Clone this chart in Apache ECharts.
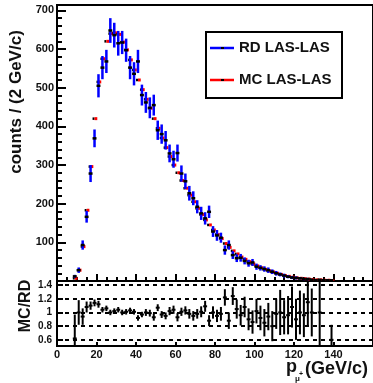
<!DOCTYPE html>
<html lang="en">
<head>
<meta charset="UTF-8">
<title>pmu spectrum</title>
<script src="https://cdn.jsdelivr.net/npm/echarts@6.0.0/dist/echarts.min.js"></script>
<style>
  html, body { margin: 0; padding: 0; background: #fff; }
  #main { width: 373px; height: 383px; }
</style>
</head>
<body>
<div id="main"></div>
<script type="text/javascript">
// bin centres in GeV/c (2 GeV/c bins)
var binCentres = [9, 11, 13, 15, 17, 19, 21, 23, 25, 27, 29, 31, 33, 35, 37, 39, 41, 43, 45, 47,
  49, 51, 53, 55, 57, 59, 61, 63, 65, 67, 69, 71, 73, 75, 77, 79, 81, 83, 85, 87,
  89, 91, 93, 95, 97, 99, 101, 103, 105, 107, 109, 111, 113, 115, 117, 119, 121, 123, 125, 127,
  129, 131, 133, 135, 137, 139];

// real data counts and their errors
var rdCounts = [12, 28, 93, 166, 278, 369, 505, 552, 568, 648, 636, 615, 617, 597, 552, 536, 568, 481, 462, 448,
  455, 390, 380, 364, 330, 315, 331, 278, 258, 227, 214, 192, 175, 162, 179, 128, 118, 112, 80, 93,
  67, 59, 60, 52, 46, 48, 37, 34, 31, 28, 24, 20, 17, 14, 11, 9, 8, 7, 5, 5,
  3, 2, 3, 2, 2, 2];
var rdErr = [4, 7, 12, 15, 22, 23, 30, 30, 30, 32, 32, 32, 30, 30, 30, 30, 30, 27, 27, 27,
  27, 25, 25, 24, 23, 22, 22, 21, 20, 19, 18, 17, 17, 16, 16, 14, 14, 13, 12, 12,
  10, 10, 10, 9, 9, 9, 8, 7, 7, 7, 6, 6, 5, 5, 4, 4, 4, 3, 3, 3,
  2, 2, 2, 2, 2, 2];

// monte carlo counts
var mcCounts = [7, 28, 89, 183, 296, 420, 515, 575, 620, 640, 642, 638, 618, 598, 572, 546, 520, 495, 470, 447,
  420, 395, 370, 345, 322, 300, 280, 260, 240, 222, 205, 188, 172, 158, 145, 132, 120, 110, 97, 87,
  78, 70, 62, 56, 50, 44, 39, 34, 30, 26, 23, 20, 17, 14, 12, 10, 8, 7, 6, 5,
  4, 3, 3, 2, 2, 1];

// MC/RD ratio and its error (null = no point)
var ratio = [0.62, 1.0, 0.94, 1.08, 1.1, 1.14, 1.12, 1.04, 1.06, 1.0, 1.02, 1.04, 1.0, 1.01, 1.03, 1.01, 0.92, 0.97, 1.0, 0.99,
  0.93, 1.07, 0.97, 0.95, 1.02, 1.04, 0.93, 1.01, 1.03, 0.98, 0.95, 0.98, 1.01, 1.09, 0.88, 1.0, 0.95, 0.98, 1.22, 0.88,
  1.24, 1.05, 0.96, 1.08, 0.9, 0.86, 1.02, 0.92, 0.85, 0.94, 0.8, 0.98, 1.0, 0.93, 0.96, 1.08, 0.9, 1.0, 0.96, 1.15,
  1.0, null, 1.0, null, null, 0.6];
var ratioErr = [0.35, 0.18, 0.12, 0.08, 0.06, 0.05, 0.05, 0.04, 0.04, 0.04, 0.04, 0.04, 0.04, 0.04, 0.04, 0.04, 0.04, 0.04, 0.05, 0.05,
  0.05, 0.05, 0.05, 0.05, 0.06, 0.06, 0.06, 0.06, 0.06, 0.07, 0.07, 0.07, 0.08, 0.08, 0.08, 0.09, 0.09, 0.1, 0.12, 0.12,
  0.13, 0.14, 0.15, 0.15, 0.16, 0.17, 0.18, 0.18, 0.2, 0.2, 0.22, 0.22, 0.33, 0.25, 0.28, 0.3, 0.3, 0.32, 0.32, 0.35,
  0.35, null, 1.0, null, null, 0.22];

var ratioLevels = [0.6, 0.8, 1.0, 1.2, 1.4];

var FONT = '"Liberation Sans", Arial, sans-serif';

var myChart = echarts.init(document.getElementById('main'));

function pack(vals, errs) {
  var out = [];
  for (var i = 0; i < binCentres.length; i++) {
    if (vals[i] === null) continue;
    out.push([binCentres[i], vals[i], errs ? errs[i] : 0]);
  }
  return out;
}

function seg(x1, y1, x2, y2, color, w) {
  return { type: 'line', shape: { x1: x1, y1: y1, x2: x2, y2: y2 }, style: { stroke: color, lineWidth: w } };
}

// RD: blue vertical error bar + black bin-width marker
function renderRD(params, api) {
  var x = api.value(0), y = api.value(1), e = api.value(2);
  var c = api.coord([x, y]);
  var lo = api.coord([x, y - e]), hi = api.coord([x, y + e]);
  var l = api.coord([x - 1, y]), r = api.coord([x + 1, y]);
  return { type: 'group', children: [
    seg(c[0], lo[1], c[0], hi[1], '#0000ff', 2.5),
    seg(l[0], c[1], r[0], c[1], '#000', 2.5)
  ] };
}

// MC: black marker with a red end
function renderMC(params, api) {
  var x = api.value(0), y = api.value(1);
  var l = api.coord([x - 1, y]), m = api.coord([x, y]), r = api.coord([x + 1.4, y]);
  return { type: 'group', children: [
    seg(l[0], l[1], m[0], m[1], '#000', 2.5),
    seg(m[0], m[1], r[0], r[1], '#ff0000', 3)
  ] };
}

// ratio: black cross
function renderRatio(params, api) {
  var x = api.value(0), y = api.value(1), e = api.value(2);
  var c = api.coord([x, y]);
  var lo = api.coord([x, y - e]), hi = api.coord([x, y + e]);
  var l = api.coord([x - 1, y]), r = api.coord([x + 1, y]);
  return { type: 'group', children: [
    seg(c[0], lo[1], c[0], hi[1], '#000', 2),
    seg(l[0], c[1], r[0], c[1], '#000', 2)
  ] };
}

var tickStyle = { color: '#000', width: 2 };
var labelStyle = { color: '#111', fontFamily: FONT, fontWeight: 'bold' };

var option = {
  backgroundColor: '#fff',
  animation: false,
  grid: [
    { left: 57, width: 331, top: 5, height: 276, show: true, borderColor: '#000', borderWidth: 2 },
    { left: 57, width: 331, top: 281, height: 65, show: true, borderColor: '#000', borderWidth: 2 }
  ],
  xAxis: [
    {
      type: 'value', gridIndex: 0, min: 0, max: 160, interval: 20,
      axisLine: { lineStyle: tickStyle },
      axisTick: { inside: true, length: 7, lineStyle: tickStyle },
      minorTick: { show: true, splitNumber: 4, length: 4, lineStyle: tickStyle },
      axisLabel: { show: false },
      splitLine: { show: false }
    },
    {
      type: 'value', gridIndex: 1, min: 0, max: 160, interval: 20,
      axisLine: { lineStyle: tickStyle },
      axisTick: { inside: true, length: 4, lineStyle: tickStyle },
      axisLabel: Object.assign({ fontSize: 11, margin: 3, showMaxLabel: false }, labelStyle),
      splitLine: { show: false }
    }
  ],
  yAxis: [
    {
      type: 'value', gridIndex: 0, min: 0, max: 714, interval: 100,
      axisLine: { lineStyle: tickStyle },
      axisTick: { inside: true, length: 9, lineStyle: tickStyle },
      minorTick: { show: true, splitNumber: 5, length: 5, lineStyle: tickStyle },
      axisLabel: Object.assign({ fontSize: 11, margin: 3, showMinLabel: false, showMaxLabel: false }, labelStyle),
      splitLine: { show: false }
    },
    {
      type: 'value', gridIndex: 1, min: 0.51, max: 1.46,
      axisLine: { lineStyle: tickStyle },
      axisTick: { inside: true, length: 6, lineStyle: tickStyle, customValues: ratioLevels },
      axisLabel: Object.assign({ fontSize: 10, margin: 5, customValues: ratioLevels }, labelStyle),
      splitLine: { show: false }
    }
  ],
  series: [
    {
      type: 'custom', name: 'MC LAS-LAS', xAxisIndex: 0, yAxisIndex: 0,
      renderItem: renderMC, data: pack(mcCounts), clip: true, silent: true
    },
    {
      type: 'custom', name: 'RD LAS-LAS', xAxisIndex: 0, yAxisIndex: 0,
      renderItem: renderRD, data: pack(rdCounts, rdErr), clip: true, silent: true
    },
    {
      type: 'custom', name: 'MC/RD', xAxisIndex: 1, yAxisIndex: 1,
      renderItem: renderRatio, data: pack(ratio, ratioErr), clip: true, silent: true,
      markLine: {
        silent: true, symbol: 'none', label: { show: false },
        lineStyle: { color: '#000', width: 2, type: [4, 4] },
        data: ratioLevels.map(function (v) { return { yAxis: v }; })
      }
    }
  ],
  graphic: [
    // legend box
    { type: 'rect', left: 205, top: 31, shape: { width: 136, height: 66 },
      style: { fill: '#fff', stroke: '#000', lineWidth: 2 }, z: 10 },
    { type: 'line', shape: { x1: 210, y1: 48, x2: 234, y2: 48 }, style: { stroke: '#0000ff', lineWidth: 2.5 }, z: 11 },
    { type: 'rect', shape: { x: 221, y: 47, width: 3, height: 2 }, style: { fill: '#000' }, z: 12 },
    { type: 'text', x: 239, y: 48, style: { text: 'RD LAS-LAS', fill: '#111', font: 'bold 15px ' + FONT, textVerticalAlign: 'middle' }, z: 11 },
    { type: 'line', shape: { x1: 210, y1: 80, x2: 234, y2: 80 }, style: { stroke: '#ff0000', lineWidth: 2.5 }, z: 11 },
    { type: 'rect', shape: { x: 221, y: 79, width: 3, height: 2 }, style: { fill: '#000' }, z: 12 },
    { type: 'text', x: 239, y: 80, style: { text: 'MC LAS-LAS', fill: '#111', font: 'bold 15px ' + FONT, textVerticalAlign: 'middle' }, z: 11 },
    // axis titles
    { type: 'text', x: 16, y: 102, rotation: Math.PI / 2,
      style: { text: 'counts / (2 GeV/c)', fill: '#111', font: 'bold 17px ' + FONT, textAlign: 'center', textVerticalAlign: 'middle' } },
    { type: 'text', x: 26, y: 306, rotation: Math.PI / 2,
      style: { text: 'MC/RD', fill: '#111', font: 'bold 16px ' + FONT, textAlign: 'center', textVerticalAlign: 'middle' } },
    { type: 'text', x: 286, y: 367, style: { text: 'p', fill: '#111', font: 'bold 18px ' + FONT, textVerticalAlign: 'middle' } },
    { type: 'text', x: 295, y: 379, style: { text: 'μ', fill: '#111', font: 'bold 8px ' + FONT, textVerticalAlign: 'middle' } },
    { type: 'text', x: 299, y: 374, style: { text: '+', fill: '#111', font: 'bold 7px ' + FONT, textVerticalAlign: 'middle' } },
    { type: 'text', x: 305, y: 369, style: { text: '(GeV/c)', fill: '#111', font: 'bold 18px ' + FONT, textVerticalAlign: 'middle' } }
  ]
};

myChart.setOption(option);
</script>
</body>
</html>
